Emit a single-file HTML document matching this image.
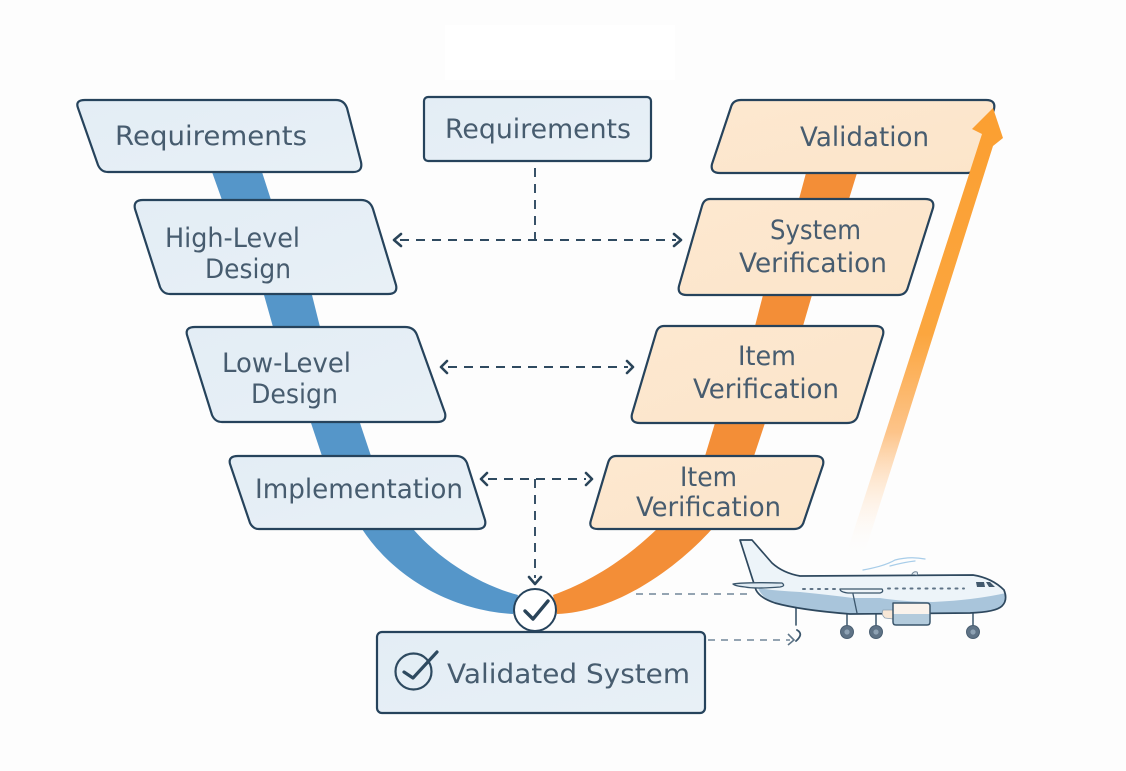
<!DOCTYPE html>
<html><head><meta charset="utf-8"><style>
html,body{margin:0;padding:0;background:#fdfdfd}
svg{display:block}
text{font-family:"DejaVu Sans","Liberation Sans",sans-serif;font-size:27px;fill:#475c6f;font-weight:normal}
.b{fill:url(#bl);stroke:#26435c;stroke-width:2.2}
.o{fill:url(#or);stroke:#26435c;stroke-width:2.2}
.d{fill:none;stroke:#2f4a60;stroke-width:1.9;stroke-dasharray:9 7}
.g{fill:none;stroke:#71879a;stroke-width:1.6;stroke-dasharray:7 6}
.h{fill:none;stroke:#2a4459;stroke-width:2.6;stroke-linecap:round;stroke-linejoin:round}
</style></head><body>
<svg width="1126" height="771" viewBox="0 0 1126 771" xmlns="http://www.w3.org/2000/svg">
<defs>
<linearGradient id="bl" x1="0" y1="0" x2="1" y2="1"><stop offset="0" stop-color="#e3edf5"/><stop offset="1" stop-color="#e8f0f6"/></linearGradient>
<linearGradient id="or" x1="0" y1="0" x2="1" y2="1"><stop offset="0" stop-color="#fde8d0"/><stop offset="1" stop-color="#fce5ca"/></linearGradient>
<linearGradient id="ar" gradientUnits="userSpaceOnUse" x1="0" y1="110" x2="0" y2="558"><stop offset="0" stop-color="#fb9f31"/><stop offset=".5" stop-color="#fba63f"/><stop offset=".72" stop-color="#fdc48a"/><stop offset="1" stop-color="#fff" stop-opacity="0"/></linearGradient>
</defs>
<rect width="1126" height="771" fill="#fdfdfd"/>
<rect x="445" y="25" width="230" height="55" fill="#fff"/>

<!-- bands -->
<path d="M212 172L222 200L264 295L273 327L311 423L322 456L362 529C390 572 445 610 513 614L518 595C480 585 440 560 413 529L371 456L360 423L320 327L312 295L271 200L262 172Z" fill="#5596c9"/>
<path d="M806 173L799 199L763 295L755 326L715 423L705 456L657 529C630 555 595 580 553 595L557 614C615 612 675 570 712 529L754 456L765 423L803 326L812 295L849 199L857 173Z" fill="#f38e37"/>

<!-- left boxes -->
<path class="b" d="M85 100H336Q344 100 347 108L361 162Q363 172 353 172H108Q101 172 98 165L78 108Q75 100 85 100Z"/>
<path class="b" d="M143 200H361Q370 200 373 209L396 285Q398 294 388 294H170Q163 294 160 287L135 209Q133 200 143 200Z"/>
<path class="b" d="M195 327H405Q414 327 417 335L445 413Q447 422 437 422H222Q215 422 212 415L187 335Q185 327 195 327Z"/>
<path class="b" d="M238 456H456Q464 456 467 463L485 520Q487 529 477 529H259Q253 529 250 523L230 464Q228 456 238 456Z"/>
<!-- right boxes -->
<path class="o" d="M741 100H986Q996 100 994 109L977 166Q975 173 967 173H720Q710 173 712 164L731 107Q733 100 741 100Z"/>
<path class="o" d="M710 199H925Q935 199 933 208L908 287Q906 295 898 295H687Q677 295 679 286L702 206Q704 199 710 199Z"/>
<path class="o" d="M664 326H875Q885 326 883 335L858 415Q856 423 847 423H640Q630 423 632 414L656 333Q658 326 664 326Z"/>
<path class="o" d="M616 456H815Q825 456 823 465L804 521Q802 529 794 529H598Q588 529 591 520L608 463Q610 456 616 456Z"/>
<rect class="b" x="424" y="97" width="227" height="64" rx="4"/>
<rect class="b" x="377" y="632" width="328" height="81" rx="5"/>

<!-- tall arrow -->
<path d="M993 108L1003 138L993 146L863 558L845 558L982 134L972 129Z" fill="url(#ar)"/>

<!-- dashed -->
<path class="d" d="M535 168V240M400 240H676M448 367H628M488 479H586M535 479V578"/>
<path class="h" d="M401 234L394 240L401 246M674 234L681 240L674 246M447 361L441 367L447 373M627 361L633 367L627 373M487 473L481 479L487 485M586 473L592 479L586 485M529 577L535 584L541 577"/>
<path class="g" d="M636 594H750M708 640H790"/>
<path d="M788 634L794 640L788 645" fill="none" stroke="#5e7588" stroke-width="1.6"/>

<!-- center check -->
<circle cx="535" cy="610" r="21" fill="#fff" stroke="#26435c" stroke-width="2"/>
<path d="M525 611L533 619L548 601" fill="none" stroke="#2a4459" stroke-width="3.4" stroke-linecap="round" stroke-linejoin="round"/>
<!-- validated icon -->
<circle cx="413.500" cy="671.500" r="18" fill="none" stroke="#2e4a60" stroke-width="2.2"/>
<path d="M404 672L413 678L437 652" fill="none" stroke="#2e4a60" stroke-width="3.2" stroke-linecap="round" stroke-linejoin="round"/>

<!-- labels -->
<text x="115" y="145" textLength="192" lengthAdjust="spacingAndGlyphs">Requirements</text>
<text x="445" y="138" textLength="186" lengthAdjust="spacingAndGlyphs">Requirements</text>
<text x="800" y="146" textLength="129" lengthAdjust="spacingAndGlyphs">Validation</text>
<text x="165" y="247" textLength="135" lengthAdjust="spacingAndGlyphs">High-Level</text>
<text x="205" y="278" textLength="86" lengthAdjust="spacingAndGlyphs">Design</text>
<text x="770" y="239" textLength="91" lengthAdjust="spacingAndGlyphs">System</text>
<text x="739" y="272" textLength="148" lengthAdjust="spacingAndGlyphs">Verification</text>
<text x="222" y="372" textLength="129" lengthAdjust="spacingAndGlyphs">Low-Level</text>
<text x="251" y="403" textLength="87" lengthAdjust="spacingAndGlyphs">Design</text>
<text x="738" y="365" textLength="58" lengthAdjust="spacingAndGlyphs">Item</text>
<text x="693" y="398" textLength="146" lengthAdjust="spacingAndGlyphs">Verification</text>
<text x="255" y="498" textLength="208" lengthAdjust="spacingAndGlyphs">Implementation</text>
<text x="680" y="486" textLength="57" lengthAdjust="spacingAndGlyphs">Item</text>
<text x="636" y="516" textLength="145" lengthAdjust="spacingAndGlyphs">Verification</text>
<text x="447" y="683" textLength="243" lengthAdjust="spacingAndGlyphs">Validated System</text>

<!-- plane -->
<g stroke-linejoin="round" stroke-linecap="round">
<path d="M796 602V625" stroke="#3b566c" stroke-width="1.6" fill="none"/>
<path d="M797 630Q804 634 796 641" stroke="#3b566c" stroke-width="1.8" fill="none"/>
<path d="M847 612V627M876 614V627M973 612V627" stroke="#3b566c" stroke-width="1.5" fill="none"/>
<circle cx="847" cy="632" r="6.500" fill="#5f7386" stroke="#4a5f72"/><circle cx="847" cy="632" r="2.600" fill="#8da1b3"/>
<circle cx="876" cy="632" r="6.500" fill="#5f7386" stroke="#4a5f72"/><circle cx="876" cy="632" r="2.600" fill="#8da1b3"/>
<circle cx="973" cy="632" r="6.500" fill="#5f7386" stroke="#4a5f72"/><circle cx="973" cy="632" r="2.600" fill="#8da1b3"/>
<path d="M740 540H752L772 563Q783 573 800 576L973 575Q992 578 1004 590Q1008 600 1002 606Q996 612 970 613L850 614Q800 610 775 603Q760 598 756 590Z" fill="#edf4f9"/>
<path d="M758 588Q775 591 800 592Q830 595 853 598H880Q905 602 933 602Q975 600 1006 593Q1008 602 1002 606Q994 612 970 613L850 614Q800 610 775 603Q762 598 758 588Z" fill="#a9c5db"/>
<path d="M740 540H752L772 563Q783 573 800 576L973 575Q992 578 1004 590Q1008 600 1002 606Q996 612 970 613L850 614Q800 610 775 603Q760 598 756 590Z" fill="none" stroke="#2e485e" stroke-width="1.700"/>
<path d="M733 584Q745 582 782 583Q786 586 780 587Q755 589 745 587Q735 586 733 584Z" fill="#dfeaf2" stroke="#3b566c" stroke-width="1.300"/>
<path d="M853 594L857 613" stroke="#3b566c" stroke-width="1.300" fill="none"/>
<path d="M840 589H882Q884 592 880 593H848Q840 592 840 589Z" fill="#eef4f8" stroke="#3b566c" stroke-width="1.300"/>
<path d="M893 610L883 610Q881 615 885 618L893 619Z" fill="#f8e7d6" stroke="#8da1b3" stroke-width=".8"/>
<path d="M893 603H927Q930 603 930 606V622Q930 625 927 625L896 625Q893 625 893 622Z" fill="#faf3ec"/>
<path d="M893 614H930V622Q930 625 927 625L896 625Q893 625 893 622Z" fill="#b3cbdc"/>
<path d="M893 603H927Q930 603 930 606V622Q930 625 927 625L896 625Q893 625 893 622Z" fill="none" stroke="#3b566c" stroke-width="1.500"/>
<path d="M976 582L984 582L985 587L977 587ZM986 582L990 582L995 587L989 587Z" fill="#42596d"/>
<path d="M803 589H838M888 588.500H964" stroke="#5f7386" stroke-width="2" stroke-dasharray="2 5.500" fill="none"/>
<path d="M863 570Q885 566 895 560Q910 556 925 559M890 566Q905 562 915 561" stroke="#a8cde9" stroke-width="1.300" fill="none"/>
<path d="M912 574Q914 571 917 572Q918 573 917 575" fill="#e7eef4" stroke="#6f8496"/>
</g>
</svg>
</body></html>
